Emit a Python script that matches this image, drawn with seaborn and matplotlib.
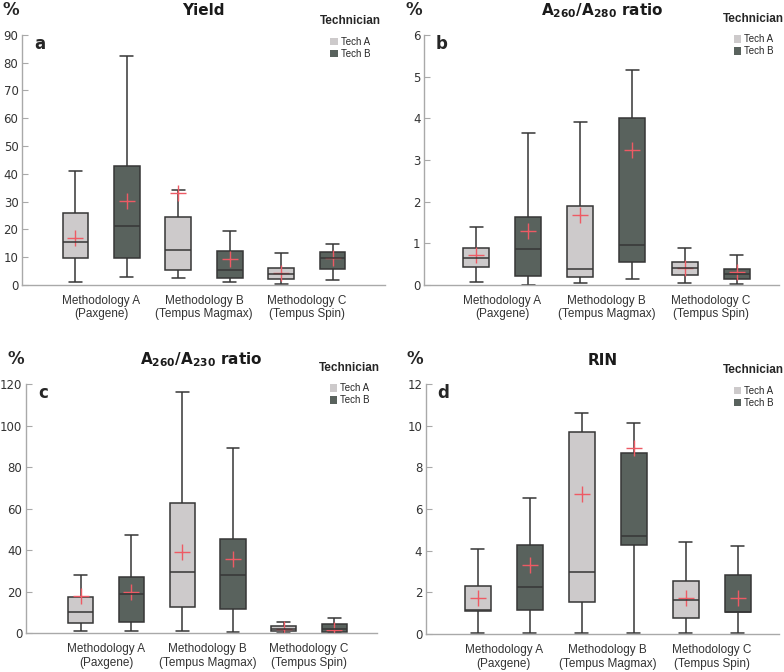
import numpy as np
import pandas as pd
import seaborn as sns
from matplotlib import pyplot as plt
from matplotlib.patches import Patch

# categories
methods = ["Methodology A\n(Paxgene)", "Methodology B\n(Tempus Magmax)", "Methodology C\n(Tempus Spin)"]
techs = ["Tech A", "Tech B"]

# box order: (Meth A, Tech A), (Meth A, Tech B), (Meth B, Tech A), ... ; (min, q1, median, q3, max)
yield_box = [(1.2, 9.6, 15.6, 25.8, 41.1), (3.0, 9.8, 21.3, 42.9, 82.4),
             (2.6, 5.5, 12.5, 24.3, 34.0), (1.0, 2.6, 5.3, 12.3, 19.5),
             (0.5, 2.0, 4.0, 6.2, 11.6), (1.8, 5.9, 9.6, 12.0, 14.6)]
yield_mean = [16.8, 30.2, 33.0, 9.2, 4.2, 9.6]

a280_box = [(0.07, 0.42, 0.65, 0.89, 1.38), (0.0, 0.22, 0.87, 1.64, 3.65),
            (0.04, 0.20, 0.38, 1.90, 3.92), (0.14, 0.54, 0.95, 4.01, 5.17),
            (0.04, 0.24, 0.40, 0.56, 0.88), (0.02, 0.14, 0.26, 0.39, 0.71)]
a280_mean = [0.72, 1.30, 1.68, 3.24, 0.40, 0.30]

a230_box = [(1.0, 5.0, 10.1, 17.6, 28.2), (1.3, 5.6, 18.8, 27.2, 47.2),
            (1.0, 12.5, 29.3, 62.7, 116.0), (0.5, 11.5, 28.0, 45.4, 89.1),
            (0.2, 1.0, 2.2, 3.4, 5.6), (0.2, 0.8, 2.1, 4.3, 7.5)]
a230_mean = [17.9, 19.7, 39.2, 36.0, 1.9, 1.6]

rin_box = [(0.03, 1.10, 1.13, 2.31, 4.08), (0.03, 1.15, 2.26, 4.26, 6.54),
           (0.03, 1.52, 3.00, 9.68, 10.60), (0.03, 4.29, 4.72, 8.69, 10.11),
           (0.03, 0.75, 1.61, 2.55, 4.42), (0.03, 1.05, 1.08, 2.84, 4.21)]
rin_mean = [1.74, 3.33, 6.71, 8.95, 1.74, 1.71]

light = "#cdcacb"
dark = "#59625d"
red = "#ee5a64"
grey = "#a9a9a9"


def make_frames(box, mean):
    rows, mrows = [], []
    k = 0
    for m in methods:
        for t in techs:
            for v in box[k]:
                rows.append({"method": m, "tech": t, "value": v})
            mrows.append({"method": m, "tech": t, "value": mean[k]})
            k += 1
    return pd.DataFrame(rows), pd.DataFrame(mrows)


panels = [
    ("Yield", yield_box, yield_mean, 90, 10, "a",
     [0.028, 0.576, 0.463, 0.372], (-0.77, 2.76), (1.0, 1.095)),
    (r"$\mathbf{A}_\mathbf{260}\mathbf{/A}_\mathbf{280}$ ratio", a280_box, a280_mean, 6, 1, "b",
     [0.541, 0.576, 0.453, 0.372], (-0.75, 2.66), (1.025, 1.105)),
    (r"$\mathbf{A}_\mathbf{260}\mathbf{/A}_\mathbf{230}$ ratio", a230_box, a230_mean, 120, 20, "c",
     [0.033, 0.0575, 0.448, 0.371], (-0.79, 2.67), (1.02, 1.105)),
    ("RIN", rin_box, rin_mean, 12, 2, "d",
     [0.543, 0.0565, 0.451, 0.372], (-0.75, 2.65), (1.025, 1.095)),
]

sns.set_style("white")
plt.rcParams["font.family"] = ["DejaVu Sans"]
plt.rcParams["mathtext.fontset"] = "dejavusans"

fig = plt.figure(figsize=(7.84, 6.72), dpi=100)

for title, box, mean, ymax, ystep, letter, rect, xlim, leg_anchor in panels:
    ax = fig.add_axes(rect)
    df, mdf = make_frames(box, mean)
    sns.boxplot(data=df, x="method", y="value", hue="tech", order=methods, hue_order=techs,
                palette={"Tech A": light, "Tech B": dark}, saturation=1,
                whis=(0, 100), showfliers=False, width=1.0, gap=0.5,
                linecolor="#363636", linewidth=1.1, legend=False, ax=ax)
    sns.pointplot(data=mdf, x="method", y="value", hue="tech", order=methods, hue_order=techs,
                  palette=[red, red], dodge=0.5, errorbar=None, marker="+",
                  markersize=12, markeredgewidth=1.0, linestyle="none", legend=False, ax=ax)

    ax.set_xlim(*xlim)
    ax.set_ylim(0, ymax)
    ax.set_yticks(np.arange(0, ymax + ystep / 2, ystep))
    ax.set_xlabel("")
    ax.set_ylabel("")
    for s in ["top", "right"]:
        ax.spines[s].set_visible(False)
    for s in ["left", "bottom"]:
        ax.spines[s].set_color(grey)
        ax.spines[s].set_linewidth(1.0)
    ax.tick_params(axis="y", direction="in", length=4, color=grey, labelsize=8.5,
                   labelcolor="#333333", pad=2.5, left=True)
    ax.tick_params(axis="x", length=0, pad=7)
    for lbl in ax.get_xticklabels():
        lbl.set_fontfamily("Liberation Sans")
        lbl.set_fontsize(8.5)
        lbl.set_color("#333333")
        lbl.set_linespacing(1.2)

    ax.set_title(title, fontsize=11, fontweight="bold", pad=14, color="#1a1a1a")
    ax.text(-0.03, 1.10, "%", transform=ax.transAxes, fontsize=12, fontweight="bold",
            ha="center", va="center", clip_on=False)
    ax.text(0.05, 0.965, letter, transform=ax.transAxes, fontsize=12, fontweight="bold",
            ha="center", va="center")

    handles = [Patch(facecolor=light, edgecolor="none", label="Tech A"),
               Patch(facecolor=dark, edgecolor="none", label="Tech B")]
    leg = ax.legend(handles=handles, title="Technician", loc="upper right",
                    bbox_to_anchor=leg_anchor, frameon=False,
                    prop={"family": "Liberation Sans", "size": 7},
                    title_fontproperties={"family": "Liberation Sans", "weight": "bold", "size": 8.5},
                    handlelength=0.8, handleheight=0.8, handletextpad=0.3,
                    labelspacing=0.2, borderaxespad=0)
    leg._legend_box.sep = 7

fig.savefig("out.png", dpi=100)
